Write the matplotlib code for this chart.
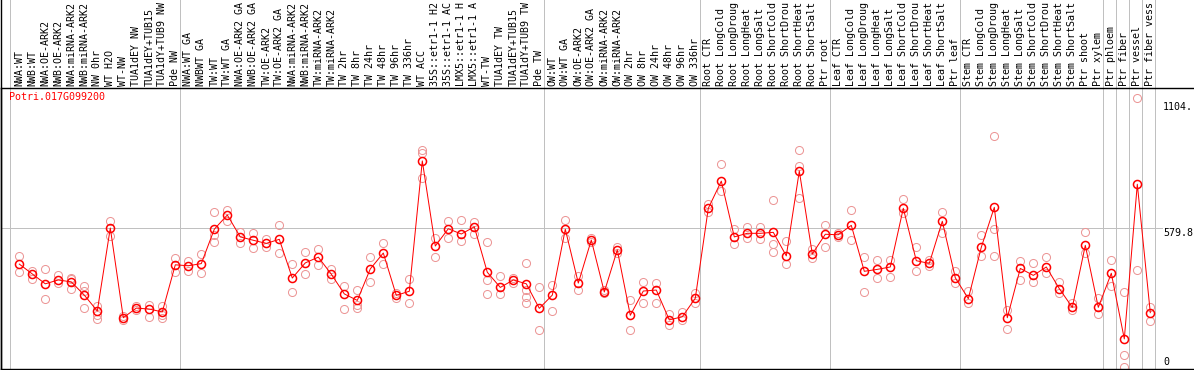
import numpy as np
import matplotlib
matplotlib.use('Agg')
import matplotlib.pyplot as plt
from matplotlib.transforms import blended_transform_factory

gene = "Potri.017G099200"

# tick labels as the chart shows them (cut to 14 characters)
labels = [
    "NWA:WT", "NWB:WT", "NWA:OE-ARK2", "NWB:OE-ARK2", "NWA:miRNA-ARK2", "NWB:miRNA-ARK2",
    "NW 0hr", "WT H2O", "WT-NW", "TUA1dEY NW", "TUA1dEY+TUB15", "TUA1dY+TUB9 NW", "Pde NW",
    "NWA:WT GA", "NWBWT GA", "TW:WT", "TW:WT GA", "NWA:OE-ARK2 GA", "NWB:OE-ARK2 GA",
    "TW:OE-ARK2", "TW:OE-ARK2 GA", "NWA:miRNA-ARK2", "NWB:miRNA-ARK2", "TW:miRNA-ARK2",
    "TW:miRNA-ARK2", "TW 2hr", "TW 8hr", "TW 24hr", "TW 48hr", "TW 96hr", "TW 336hr", "WT ACC",
    "35S::etr1-1 H2", "35S::etr1-1 AC", "LMX5::etr1-1 H", "LMX5::etr1-1 A", "WT-TW",
    "TUA1dEY TW", "TUA1dEY+TUB15", "TUA1dY+TUB9 TW", "Pde TW",
    "OW:WT", "OW:WT GA", "OW:OE-ARK2", "OW:OE-ARK2 GA", "OW:miRNA-ARK2", "OW:miRNA-ARK2",
    "OW 2hr", "OW 8hr", "OW 24hr", "OW 48hr", "OW 96hr", "OW 336hr",
    "Root CTR", "Root LongCold", "Root LongDroug", "Root LongHeat", "Root LongSalt",
    "Root ShortCold", "Root ShortDrou", "Root ShortHeat", "Root ShortSalt", "Ptr root",
    "Leaf CTR", "Leaf LongCold", "Leaf LongDroug", "Leaf LongHeat", "Leaf LongSalt",
    "Leaf ShortCold", "Leaf ShortDrou", "Leaf ShortHeat", "Leaf ShortSalt", "Ptr leaf",
    "Stem CTR", "Stem LongCold", "Stem LongDroug", "Stem LongHeat", "Stem LongSalt",
    "Stem ShortCold", "Stem ShortDrou", "Stem ShortHeat", "Stem ShortSalt", "Ptr shoot",
    "Ptr xylem", "Ptr phloem", "Ptr fiber", "Ptr vessel", "Ptr fiber vess",
]

means = [
    430, 389, 348, 364, 356, 301, 235, 580, 207, 247, 243, 231, 427,
    423, 432, 575, 634, 543, 529, 516, 533, 372, 435, 459, 388, 306, 279, 410,
    476, 300, 317, 859, 505, 577, 555, 585, 396, 333, 364, 348, 246,
    301, 575, 351, 530, 314, 489, 217, 318, 322, 198, 211, 288,
    662, 775, 543, 558, 558, 562, 464, 817, 472, 554,
    552, 591, 400, 408, 418, 662, 444, 433, 608, 373,
    286, 500, 666, 207, 412, 383, 418, 328, 250, 508, 250, 392, 119, 762, 228,
]

replicates = [
    [464, 397], [402, 369], [408, 285], [386, 350], [372, 325, 367], [338, 246, 319],
    [256, 220, 203], [609, 548], [215, 198], [254, 241], [260, 211], [256, 205, 217], [454, 396],
    [443, 402], [471, 392], [647, 550, 521], [655, 609], [563, 519], [560, 496], [536, 502],
    [593, 475], [430, 314], [479, 390], [493, 426], [410, 368], [339, 243], [322, 246, 260],
    [459, 357], [516, 429], [309, 288], [368, 267], [904, 891, 787], [540, 459], [610, 537],
    [615, 527], [606, 556], [521, 363, 306], [380, 306], [371, 350], [433, 322, 293, 269],
    [333, 156],
    [344, 235], [613, 537], [382, 321], [540, 523], [322, 309], [502, 475], [281, 156],
    [354, 267], [353, 267], [222, 175], [231, 198], [309, 269],
    [680, 648], [846, 734], [577, 514], [583, 538], [585, 536], [696, 514, 479], [526, 430],
    [904, 838, 704], [491, 457], [593, 500],
    [544, 560], [655, 530], [461, 314], [447, 371], [447, 375], [699, 641], [500, 402],
    [447, 422], [645, 558], [400, 351],
    [319, 267], [551, 464], [961, 575, 464], [239, 160], [444, 363], [435, 354], [458, 392],
    [355, 309], [269, 239], [562, 475], [290, 221], [446, 339], [314, 52, 0], [1119, 404],
    [250, 193],
]

group_sizes = [13, 28, 12, 10, 10, 11, 1, 1, 1, 1]
y_marks = [0, 579.8, 1104]

W, H = 1194, 370
px = 0.72  # one pixel in points

fig = plt.figure(figsize=(W / 100, H / 100), dpi=100)
ax = fig.add_axes([1 / W, 1 / H, (W - 1) / W, 281 / H])

x = np.arange(len(labels))
ax.set_xlim((1 - 19.3) / 13, (W - 19.3) / 13)
ax.set_ylim(-6.24, 1162.2)

# group separators, running up through the label area
bounds = [-0.69] + list(np.cumsum(group_sizes) - 0.615)
for b in bounds:
    ax.axvline(b, ymin=0, ymax=369 / 281, color='#c0c0c0', lw=px, clip_on=False, zorder=0)
ax.axhline(y_marks[1], xmin=0, xmax=1161 / (W - 1), color='#c0c0c0', lw=px, zorder=0)

for i, r in enumerate(replicates):
    ax.plot([i] * len(r), r, 'o', mfc='none', mec='#ec9595', ms=5.8, mew=px, zorder=2)
ax.plot(x, means, '-', color='red', lw=px, zorder=3)
ax.plot(x, means, 'o', mfc='none', mec='red', ms=5.8, mew=1.1, zorder=4)

mono = 'DejaVu Sans Mono'
ax.xaxis.tick_top()
ax.set_xticks(x)
ax.set_xticklabels(labels, rotation=90, fontfamily=mono, fontsize=7.2)
ax.tick_params(axis='x', length=0, pad=1.5)
ax.set_yticks([])

for s in ['top', 'bottom', 'left']:
    ax.spines[s].set_linewidth(px * 1.4)
    ax.spines[s].set_color('black')
ax.spines['right'].set_visible(False)
# left border continues up through the label area
ax.axvline(ax.get_xlim()[0], ymin=0, ymax=369 / 281, color='black', lw=px * 1.4, clip_on=False)

ax.text(8 / (W - 1), (369 - 97) / 281, gene, transform=ax.transAxes, color='red',
        fontfamily=mono, fontsize=7.2, ha='left', va='center')

trans = blended_transform_factory(ax.transAxes, ax.transData)
tx = 1162 / (W - 1)
ax.text(tx, y_marks[0], "0", transform=trans, fontfamily=mono, fontsize=7.2, ha='left', va='bottom')
ax.text(tx, y_marks[1], "579.8", transform=trans, fontfamily=mono, fontsize=7.2, ha='left', va='top')
ax.text(tx, y_marks[2], "1104.", transform=trans, fontfamily=mono, fontsize=7.2, ha='left', va='top')

fig.savefig('out.png', dpi=100)
